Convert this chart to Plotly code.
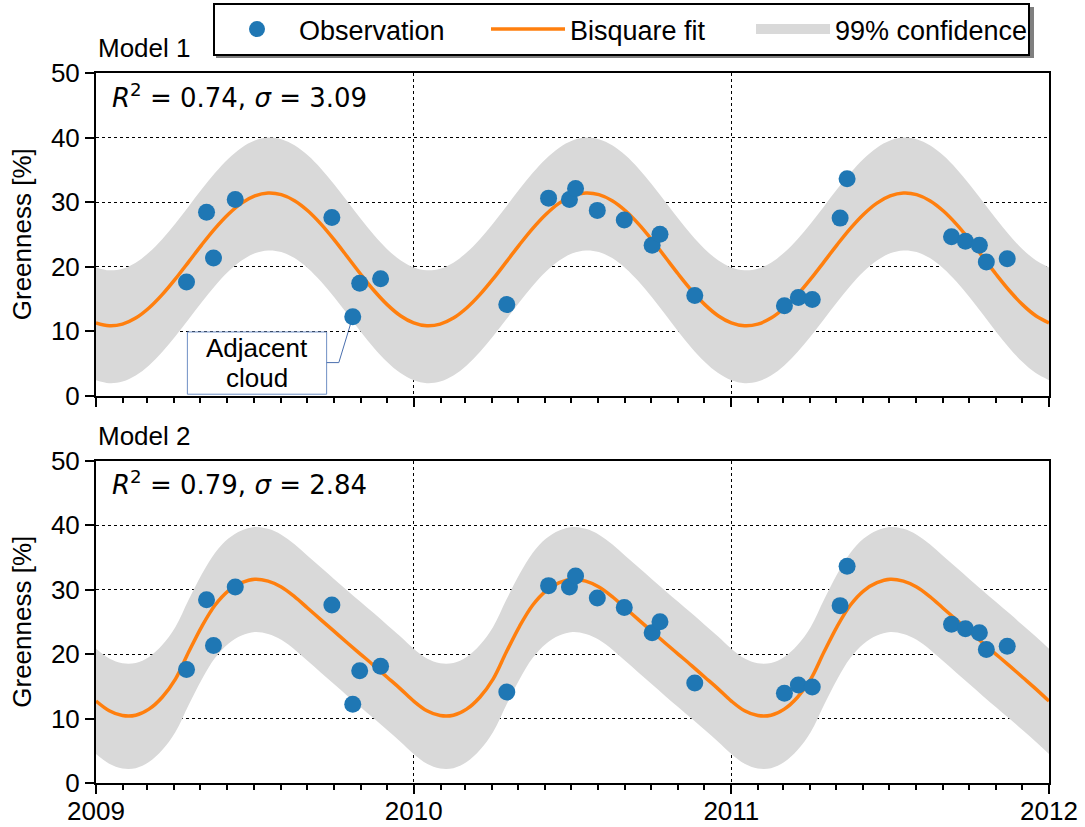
from datetime import datetime, timedelta

import plotly.graph_objects as go
from plotly.subplots import make_subplots

# ---------------- data ----------------
obs_dates = [
    "2009-04-15", "2009-05-08", "2009-05-16", "2009-06-10", "2009-09-29",
    "2009-10-23", "2009-10-31", "2009-11-24",
    "2010-04-18", "2010-06-05", "2010-06-29", "2010-07-06", "2010-07-31",
    "2010-08-31", "2010-10-02", "2010-10-11", "2010-11-20",
    "2011-03-03", "2011-03-19", "2011-04-04", "2011-05-06", "2011-05-14",
    "2011-09-11", "2011-09-27", "2011-10-13", "2011-10-21", "2011-11-14",
]
obs_values = [
    17.6, 28.4, 21.3, 30.4, 27.6, 12.2, 17.4, 18.1,
    14.1, 30.6, 30.4, 32.1, 28.7, 27.2, 23.3, 25.0, 15.5,
    13.9, 15.2, 14.9, 27.5, 33.6, 24.6, 23.9, 23.3, 20.7, 21.2,
]

# fitted curves are sampled 24 times per year (every 1/24 year), 2009-2011,
# closing on 2012-01-01
curve_dates = [
    (datetime(y, 1, 1) + timedelta(days=365 * j / 24)).strftime("%Y-%m-%d %H:%M")
    for y in (2009, 2010, 2011) for j in range(24)
] + ["2012-01-01"]

# Model 1: bisquare fit and 99% confidence band
fit1 = [
    11.26, 10.81, 11.06, 12.00, 13.56, 15.63, 18.07, 20.72, 23.40, 25.92, 28.11, 29.83,
    30.94, 31.39, 31.14, 30.20, 28.64, 26.57, 24.13, 21.48, 18.80, 16.28, 14.09, 12.37,
    11.26, 10.81, 11.06, 12.00, 13.56, 15.63, 18.07, 20.72, 23.40, 25.92, 28.11, 29.83,
    30.94, 31.39, 31.14, 30.20, 28.64, 26.57, 24.13, 21.48, 18.80, 16.28, 14.09, 12.37,
    11.26, 10.81, 11.06, 12.00, 13.56, 15.63, 18.07, 20.72, 23.40, 25.92, 28.11, 29.83,
    30.94, 31.39, 31.14, 30.20, 28.64, 26.57, 24.13, 21.48, 18.80, 16.28, 14.09, 12.37,
    11.26,
]
upper1 = [
    19.86, 19.41, 19.66, 20.60, 22.16, 24.23, 26.67, 29.32, 32.00, 34.52, 36.71, 38.43,
    39.54, 39.99, 39.74, 38.80, 37.24, 35.17, 32.73, 30.08, 27.40, 24.88, 22.69, 20.97,
    19.86, 19.41, 19.66, 20.60, 22.16, 24.23, 26.67, 29.32, 32.00, 34.52, 36.71, 38.43,
    39.54, 39.99, 39.74, 38.80, 37.24, 35.17, 32.73, 30.08, 27.40, 24.88, 22.69, 20.97,
    19.86, 19.41, 19.66, 20.60, 22.16, 24.23, 26.67, 29.32, 32.00, 34.52, 36.71, 38.43,
    39.54, 39.99, 39.74, 38.80, 37.24, 35.17, 32.73, 30.08, 27.40, 24.88, 22.69, 20.97,
    19.86,
]
lower1 = [
    2.36, 1.91, 2.16, 3.10, 4.66, 6.73, 9.17, 11.82, 14.50, 17.02, 19.21, 20.93,
    22.04, 22.49, 22.24, 21.30, 19.74, 17.67, 15.23, 12.58, 9.90, 7.38, 5.19, 3.47,
    2.36, 1.91, 2.16, 3.10, 4.66, 6.73, 9.17, 11.82, 14.50, 17.02, 19.21, 20.93,
    22.04, 22.49, 22.24, 21.30, 19.74, 17.67, 15.23, 12.58, 9.90, 7.38, 5.19, 3.47,
    2.36, 1.91, 2.16, 3.10, 4.66, 6.73, 9.17, 11.82, 14.50, 17.02, 19.21, 20.93,
    22.04, 22.49, 22.24, 21.30, 19.74, 17.67, 15.23, 12.58, 9.90, 7.38, 5.19, 3.47,
    2.36,
]

# Model 2: bisquare fit and 99% confidence band
fit2 = [
    12.70, 11.20, 10.45, 10.50, 11.45, 13.30, 16.10, 20.30, 24.30, 27.60, 29.80, 31.05,
    31.60, 31.30, 30.40, 28.90, 27.10, 25.30, 23.50, 21.70, 19.95, 18.20, 16.40, 14.60,
    12.70, 11.20, 10.45, 10.50, 11.45, 13.30, 16.10, 20.30, 24.30, 27.60, 29.80, 31.05,
    31.60, 31.30, 30.40, 28.90, 27.10, 25.30, 23.50, 21.70, 19.95, 18.20, 16.40, 14.60,
    12.70, 11.20, 10.45, 10.50, 11.45, 13.30, 16.10, 20.30, 24.30, 27.60, 29.80, 31.05,
    31.60, 31.30, 30.40, 28.90, 27.10, 25.30, 23.50, 21.70, 19.95, 18.20, 16.40, 14.60,
    12.70,
]
upper2 = [
    20.80, 19.30, 18.55, 18.60, 19.55, 21.40, 24.20, 28.40, 32.40, 35.70, 37.90, 39.15,
    39.70, 39.40, 38.50, 37.00, 35.20, 33.40, 31.60, 29.80, 28.05, 26.30, 24.50, 22.70,
    20.80, 19.30, 18.55, 18.60, 19.55, 21.40, 24.20, 28.40, 32.40, 35.70, 37.90, 39.15,
    39.70, 39.40, 38.50, 37.00, 35.20, 33.40, 31.60, 29.80, 28.05, 26.30, 24.50, 22.70,
    20.80, 19.30, 18.55, 18.60, 19.55, 21.40, 24.20, 28.40, 32.40, 35.70, 37.90, 39.15,
    39.70, 39.40, 38.50, 37.00, 35.20, 33.40, 31.60, 29.80, 28.05, 26.30, 24.50, 22.70,
    20.80,
]
lower2 = [
    4.50, 3.00, 2.25, 2.30, 3.25, 5.10, 7.90, 12.10, 16.10, 19.40, 21.60, 22.85,
    23.40, 23.10, 22.20, 20.70, 18.90, 17.10, 15.30, 13.50, 11.75, 10.00, 8.20, 6.40,
    4.50, 3.00, 2.25, 2.30, 3.25, 5.10, 7.90, 12.10, 16.10, 19.40, 21.60, 22.85,
    23.40, 23.10, 22.20, 20.70, 18.90, 17.10, 15.30, 13.50, 11.75, 10.00, 8.20, 6.40,
    4.50, 3.00, 2.25, 2.30, 3.25, 5.10, 7.90, 12.10, 16.10, 19.40, 21.60, 22.85,
    23.40, 23.10, 22.20, 20.70, 18.90, 17.10, 15.30, 13.50, 11.75, 10.00, 8.20, 6.40,
    4.50,
]

panel_titles = ["Model 1", "Model 2"]
panel_stats = ["<i>R</i><sup>2</sup> = 0.74, <i>σ</i> = 3.09",
               "<i>R</i><sup>2</sup> = 0.79, <i>σ</i> = 2.84"]
cloud_lines = ["Adjacent", "cloud"]
cloud_index = 5  # observation flagged as adjacent cloud

# ---------------- style ----------------
FONT = "Liberation Sans, Arial, sans-serif"
BLUE = "#1f77b4"
ORANGE = "#ff7f0e"
BAND = "#d9d9d9"
CALLOUT = "#6f8fc4"

fig = make_subplots(rows=2, cols=1, shared_xaxes=True)

models = [(fit1, upper1, lower1), (fit2, upper2, lower2)]
for i, (fit, up, lo) in enumerate(models):
    row = i + 1
    first = i == 0
    fig.add_trace(go.Scatter(x=curve_dates, y=lo, mode="lines",
                             line=dict(width=0, shape="spline", color=BAND),
                             showlegend=False, hoverinfo="skip",
                             legendgroup="band"),
                  row=row, col=1)
    fig.add_trace(go.Scatter(x=curve_dates, y=up, mode="lines", fill="tonexty",
                             fillcolor=BAND,
                             line=dict(width=0, shape="spline", color=BAND),
                             showlegend=False, legendgroup="band",
                             name="99% confidence"),
                  row=row, col=1)
    fig.add_trace(go.Scatter(x=curve_dates, y=fit, mode="lines",
                             line=dict(width=3.5, shape="spline", color=ORANGE),
                             name="Bisquare fit", legendrank=2, legendwidth=176,
                             showlegend=first),
                  row=row, col=1)
    fig.add_trace(go.Scatter(x=obs_dates, y=obs_values, mode="markers",
                             marker=dict(size=17, color=BLUE, line=dict(width=0)),
                             name="Observation", legendrank=1, legendwidth=182,
                             showlegend=first),
                  row=row, col=1)

# legend swatch for the confidence band (thick grey bar)
fig.add_trace(go.Scatter(x=[None], y=[None], mode="lines",
                         line=dict(width=20, color=BAND),
                         name="99% confidence", legendrank=3, legendwidth=188,
                         legendgroup="band", showlegend=True),
              row=1, col=1)

W, H = 1085, 827
ML, MR, MT, MB = 96, 36, 73, 44
PW, PH = W - ML - MR, H - MT - MB


def px_x(p):
    return (p - ML) / PW


def px_y(p):
    return (H - MB - p) / PH


axis_common = dict(
    showline=True, linecolor="black", linewidth=2, mirror=True,
    ticks="outside", ticklen=9, tickwidth=2, tickcolor="black",
    showgrid=True, gridcolor="black", gridwidth=1, griddash="dot",
    zeroline=False, automargin=False,
    tickfont=dict(family=FONT, size=26, color="black"),
)

xcommon = dict(axis_common, type="date",
               range=["2009-01-01", "2012-01-01"],
               tick0="2009-01-01", dtick="M12", tickformat="%Y",
               ticklabelstandoff=-5,
               minor=dict(dtick="M1", ticks="outside", ticklen=5,
                          tickwidth=1.5, tickcolor="black", showgrid=False))
fig.update_xaxes(xcommon)
fig.update_xaxes(showticklabels=False, row=1, col=1)

fig.update_yaxes(axis_common, range=[0, 50], dtick=10, tick0=0,
                 title=dict(text="Greenness [%]", standoff=12,
                            font=dict(family=FONT, size=26, color="black")))

top_h = 322.5 / PH
fig.update_layout(
    yaxis=dict(domain=[1 - top_h, 1]),
    yaxis2=dict(domain=[0, top_h]),
)

annotations = []
for i, ytop in enumerate([48, 436]):
    annotations.append(dict(xref="paper", yref="paper", x=0, y=px_y(ytop),
                            xanchor="left", yanchor="middle", showarrow=False,
                            text=panel_titles[i],
                            font=dict(family=FONT, size=26, color="black")))
for i, ys in enumerate([96, 483]):
    annotations.append(dict(xref="paper", yref="paper", x=px_x(110), y=px_y(ys),
                            xanchor="left", yanchor="middle", showarrow=False,
                            text=panel_stats[i],
                            font=dict(family="DejaVu Sans", size=26, color="black")))

# callout text for the cloud-affected observation
for txt, yv in zip(cloud_lines, [7.35, 2.7]):
    annotations.append(dict(xref="x", yref="y", x="2009-07-05", y=yv,
                            xanchor="center", yanchor="middle", showarrow=False,
                            text=txt,
                            font=dict(family=FONT, size=26, color="black")))

shapes = [
    # drop shadow behind the legend box
    dict(type="rect", xref="paper", yref="paper", layer="above",
         x0=px_x(216), x1=px_x(1034), y0=px_y(58), y1=px_y(7),
         fillcolor="#7f7f7f", line=dict(width=0)),
    # callout box
    dict(type="rect", xref="x", yref="y", layer="above",
         x0="2009-04-16", x1="2009-09-23", y0=0.2, y1=9.85,
         fillcolor="white", line=dict(color=CALLOUT, width=1)),
    # connector from the flagged observation to the box
    dict(type="line", xref="x", yref="y", layer="below",
         x0=obs_dates[cloud_index], y0=obs_values[cloud_index],
         x1="2009-10-07", y1=5.1, line=dict(color="#4a6fae", width=1)),
    dict(type="line", xref="x", yref="y", layer="above",
         x0="2009-10-07", y0=5.1, x1="2009-09-23", y1=5.1,
         line=dict(color="#4a6fae", width=1)),
]

fig.update_layout(
    width=W, height=H,
    margin=dict(l=ML, r=MR, t=MT, b=MB),
    paper_bgcolor="white", plot_bgcolor="white",
    font=dict(family=FONT, size=26, color="black"),
    annotations=annotations,
    shapes=shapes,
    legend=dict(orientation="h", traceorder="normal",
                xref="container", yref="container",
                x=213 / W, y=1 - 3 / H,
                xanchor="left", yanchor="top",
                bgcolor="white", bordercolor="black", borderwidth=2,
                itemwidth=74,
                font=dict(family=FONT, size=27, color="black")),
)

fig.write_html("out.html")
